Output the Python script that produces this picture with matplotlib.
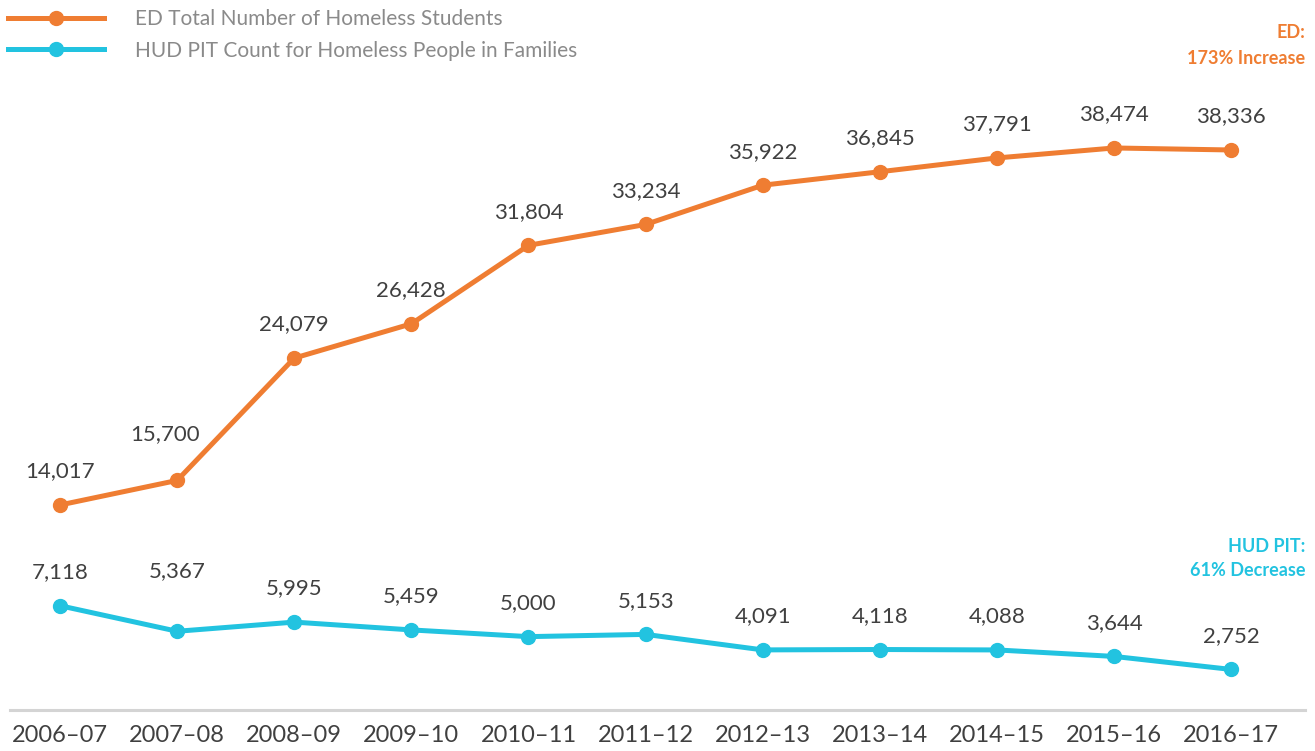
import matplotlib.pyplot as plt
from matplotlib.lines import Line2D

plt.rcParams['font.family'] = ['Lato', 'DejaVu Sans']

years = ['2006–07', '2007–08', '2008–09', '2009–10', '2010–11', '2011–12',
         '2012–13', '2013–14', '2014–15', '2015–16', '2016–17']
ed_students = [14017, 15700, 24079, 26428, 31804, 33234, 35922, 36845, 37791, 38474, 38336]
hud_families = [7118, 5367, 5995, 5459, 5000, 5153, 4091, 4118, 4088, 3644, 2752]

ORANGE = '#EF7D32'
CYAN = '#22C3E0'
LABEL = '#404040'

fig = plt.figure(figsize=(13.15, 7.51), dpi=100)
ax = fig.add_axes([10 / 1315, 0.0551, 1295 / 1315, 0.9449])

x = list(range(len(years)))
ax.plot(x, ed_students, color=ORANGE, lw=3.6, marker='o', ms=10, zorder=3)
ax.plot(x, hud_families, color=CYAN, lw=3.6, marker='o', ms=10, zorder=3)

# a couple of labels are nudged off the line, as in the original
ed_offsets = {1: (-9, 26)}
hud_offsets = {1: (0, 36)}
for i, v in enumerate(ed_students):
    ax.annotate(f'{v:,}', (i, v), xytext=ed_offsets.get(i, (0, 17)),
                textcoords='offset points', ha='center', va='bottom',
                fontsize=16, color=LABEL)
for i, v in enumerate(hud_families):
    ax.annotate(f'{v:,}', (i, v), xytext=hud_offsets.get(i, (0, 17)),
                textcoords='offset points', ha='center', va='bottom',
                fontsize=16, color=LABEL)

ax.set_xlim(-0.427, 10.63)
ax.set_ylim(0, 48610)
ax.set_xticks(x)
ax.set_xticklabels(years, fontsize=17, color=LABEL)
ax.set_yticks([])
ax.tick_params(axis='x', length=0, pad=11)
for s in ['top', 'right', 'left']:
    ax.spines[s].set_visible(False)
ax.spines['bottom'].set_color('#d4d4d4')
ax.spines['bottom'].set_linewidth(2.2)

ax.text(1.0, 0.9535, 'ED:', transform=ax.transAxes, ha='right', va='center',
        fontsize=13, fontweight='bold', color=ORANGE)
ax.text(1.0, 0.918, '173% Increase', transform=ax.transAxes, ha='right', va='center',
        fontsize=13, fontweight='bold', color=ORANGE)
ax.text(1.0, 0.2305, 'HUD PIT:', transform=ax.transAxes, ha='right', va='center',
        fontsize=13, fontweight='bold', color=CYAN)
ax.text(1.0, 0.1967, '61% Decrease', transform=ax.transAxes, ha='right', va='center',
        fontsize=13, fontweight='bold', color=CYAN)

handles = [Line2D([], [], color=ORANGE, lw=3.6, marker='o', ms=10),
           Line2D([], [], color=CYAN, lw=3.6, marker='o', ms=10)]
fig.legend(handles, ['ED Total Number of Homeless Students',
                     'HUD PIT Count for Homeless People in Families'],
           loc='upper left', bbox_to_anchor=(4 / 1315, 1 - 5 / 751), frameon=False,
           fontsize=15, handlelength=4.6, handletextpad=1.5, labelspacing=0.55,
           borderaxespad=0.0, borderpad=0.2, labelcolor='#8a8a8a')

fig.savefig('out.png', dpi=100)
